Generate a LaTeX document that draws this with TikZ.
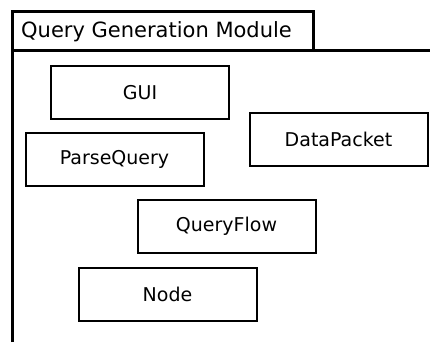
\documentclass[tikz,border=0pt]{standalone}
\usepackage{fontspec}
\setmainfont{DejaVu Sans}
\begin{document}
\begin{tikzpicture}[x=1pt,y=-1pt,
  frameline/.style={line width=3pt},
  cls/.style={draw,line width=2pt,minimum width=178pt,minimum height=53pt,
    inner sep=0pt,font=\fontsize{19}{22}\selectfont},
]
\useasboundingbox (0,0) rectangle (430,342);
% package frame with its name tab
\draw[frameline] (12,51) -- (12,12) -- (313,12) -- (313,51);
\draw[frameline] (12,342) -- (12,51) -- (431,51);
\node[anchor=west,inner sep=0pt,font=\fontsize{21}{24}\selectfont] (title) at (21,32) {Query Generation Module};
% classes
\node[cls] (gui) at (140,92.5) {GUI};
\node[cls] (parse) at (114.5,159.5) {ParseQuery};
\node[cls] (packet) at (338.5,139) {DataPacket};
\node[cls] (flow) at (226.5,226.5) {QueryFlow};
\node[cls] (node) at (167.5,294) {Node};
\end{tikzpicture}
\end{document}
